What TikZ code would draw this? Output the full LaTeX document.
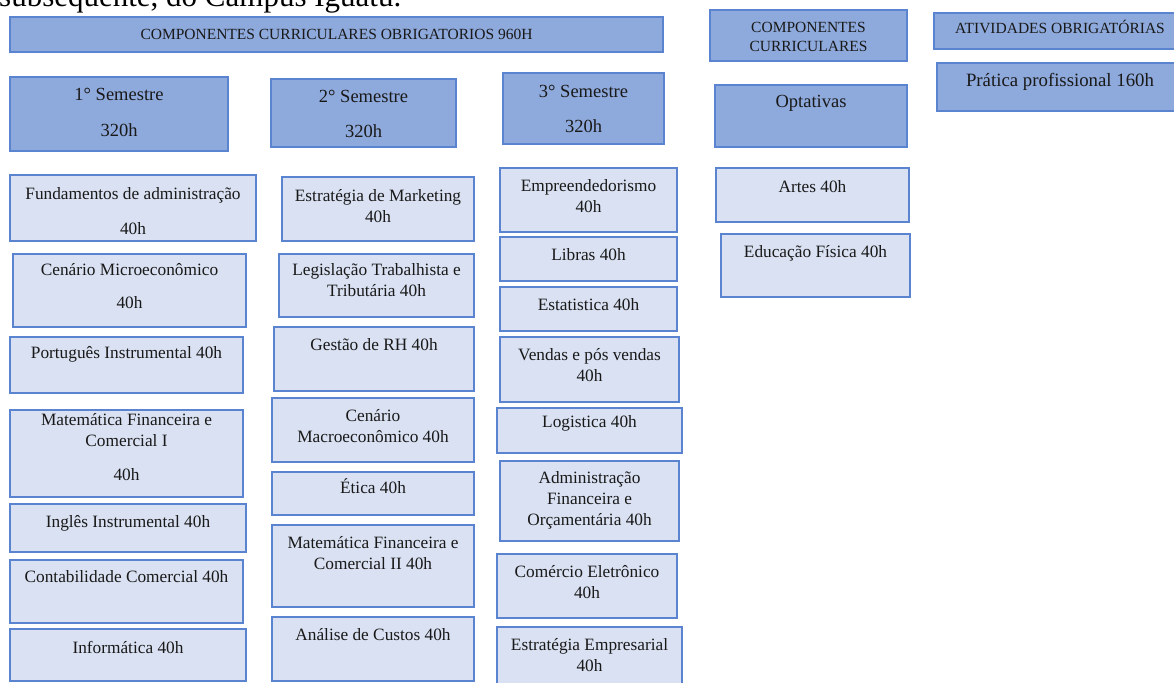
\documentclass[tikz,border=0pt]{standalone}
\usepackage{fontspec}
\setmainfont{Liberation Serif}
\definecolor{hfill}{HTML}{8EA9DB}
\definecolor{lfill}{HTML}{D9E1F2}
\definecolor{bord}{HTML}{5A84D0}
\newcommand\fbody{\fontsize{17.3}{21}\selectfont}
\newcommand\fhead{\fontsize{15.5}{19}\selectfont}
\newcommand\fsem{\fontsize{18.5}{22}\selectfont}
\newcommand\fbig{\fontsize{18.8}{22}\selectfont}
% \bx{name}{boxstyle}{font}{x1}{y1}{x2}{y2}{baseline}{text}
\newcommand\bx[9]{%
  \node[#2, minimum width={(#6-#4)*1pt}, minimum height={(#7-#5)*1pt}] (#1) at ({(#4+#6)/2},{(#5+#7)/2}) {};
  \node[txt, font=#3] (#1-t) at ({(#4+#6)/2},{#8-20}) {\rule{0pt}{20pt}#9};
}
\tikzset{
  hb/.style={draw=bord, fill=hfill, line width=1.2pt, inner sep=0pt, rectangle},
  lb/.style={draw=bord, fill=lfill, line width=1.2pt, inner sep=0pt, rectangle},
  txt/.style={anchor=north, inner sep=0pt, align=center, text=black!90},
}
\begin{document}
\begin{tikzpicture}[x=1pt,y=-1pt]
\useasboundingbox (0,0) rectangle (1174,682);
\clip (0,0) rectangle (1174,682);
\fill[white] (0,0) rectangle (1174,682);
\node[anchor=base west, inner sep=0pt, font=\fontsize{31}{36}\selectfont] (intro) at (-1,7) {subsequente, do Campus Iguatu.};
% headers
\bx{top}{hb}{\fhead}{10}{17}{663}{52}{39}{COMPONENTES CURRICULARES OBRIGATORIOS 960H}
\bx{cc}{hb}{\fhead}{710}{10}{907}{61}{32}{COMPONENTES\\CURRICULARES}
\bx{atv}{hb}{\fhead}{934}{13}{1186}{49}{33}{ATIVIDADES OBRIGATÓRIAS}
\bx{pp}{hb}{\fbig}{937}{63}{1183}{111}{86}{Prática profissional 160h}
\bx{opt}{hb}{\fsem}{715}{85}{907}{147}{107}{Optativas}
\bx{s1}{hb}{\fsem}{10}{77}{228}{151}{100}{1° Semestre\\[14pt]320h}
\bx{s2}{hb}{\fsem}{271}{79}{456}{147}{102}{2° Semestre\\[13pt]320h}
\bx{s3}{hb}{\fsem}{503}{73}{664}{144}{97}{3° Semestre\\[13pt]320h}
% column 1
\bx{a1}{lb}{\fbody}{10}{175}{256}{241}{199}{Fundamentos de administração\\[14pt]40h}
\bx{a2}{lb}{\fbody}{13}{254}{246}{327}{275}{Cenário Microeconômico\\[12pt]40h}
\bx{a3}{lb}{\fbody}{10}{337}{243}{393}{358}{Português Instrumental 40h}
\bx{a4}{lb}{\fbody}{10}{410}{243}{497}{425}{Matemática Financeira e\\Comercial I\\[13pt]40h}
\bx{a5}{lb}{\fbody}{10}{504}{246}{552}{527}{Inglês Instrumental 40h}
\bx{a6}{lb}{\fbody}{10}{560}{243}{623}{582}{Contabilidade Comercial 40h}
\bx{a7}{lb}{\fbody}{10}{629}{246}{681}{653}{Informática 40h}
% column 2
\bx{b1}{lb}{\fbody}{282}{177}{474}{241}{201}{Estratégia de Marketing\\40h}
\bx{b2}{lb}{\fbody}{279}{254}{474}{317}{275}{Legislação Trabalhista e\\Tributária 40h}
\bx{b3}{lb}{\fbody}{274}{327}{474}{391}{350}{Gestão de RH 40h}
\bx{b4}{lb}{\fbody}{272}{398}{474}{462}{421}{Cenário\\Macroeconômico 40h}
\bx{b5}{lb}{\fbody}{272}{472}{474}{515}{493}{Ética 40h}
\bx{b6}{lb}{\fbody}{272}{525}{474}{607}{548}{Matemática Financeira e\\Comercial II 40h}
\bx{b7}{lb}{\fbody}{272}{617}{474}{681}{640}{Análise de Custos 40h}
% column 3
\bx{c1}{lb}{\fbody}{500}{168}{677}{232}{191}{Empreendedorismo\\40h}
\bx{c2}{lb}{\fbody}{500}{237}{677}{281}{260}{Libras 40h}
\bx{c3}{lb}{\fbody}{500}{287}{677}{331}{310}{Estatistica 40h}
\bx{c4}{lb}{\fbody}{500}{337}{679}{402}{360}{Vendas e pós vendas\\40h}
\bx{c5}{lb}{\fbody}{497}{408}{682}{453}{427}{Logistica 40h}
\bx{c6}{lb}{\fbody}{500}{461}{679}{541}{483}{Administração\\Financeira e\\Orçamentária 40h}
\bx{c7}{lb}{\fbody}{497}{554}{677}{618}{577}{Comércio Eletrônico\\40h}
\bx{c8}{lb}{\fbody}{497}{627}{682}{690}{650}{Estratégia Empresarial\\40h}
% optativas
\bx{d1}{lb}{\fbody}{716}{168}{909}{222}{192}{Artes 40h}
\bx{d2}{lb}{\fbody}{721}{234}{910}{297}{257}{Educação Física 40h}
\end{tikzpicture}
\end{document}
